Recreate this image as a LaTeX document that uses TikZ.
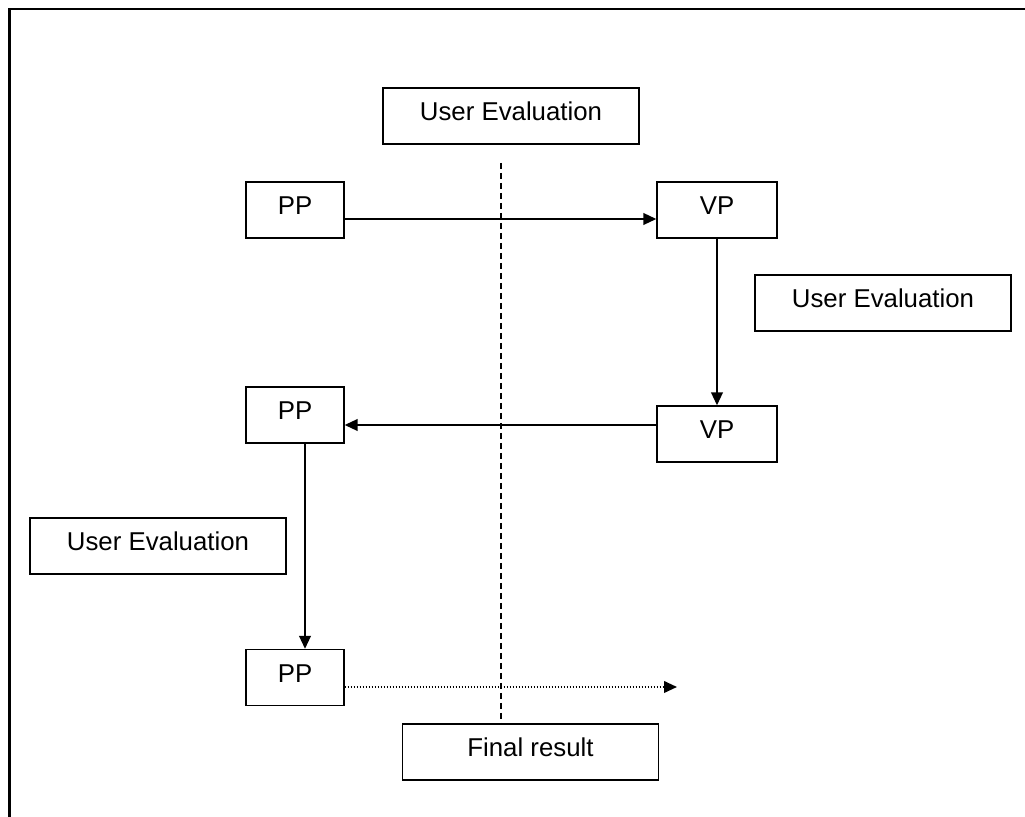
\documentclass[tikz,border=0pt]{standalone}
\usepackage{fontspec}
\setmainfont{Liberation Sans}
\usetikzlibrary{arrows.meta,calc}

\begin{document}
\begin{tikzpicture}[
  x=0.5pt, y=-0.5pt,
  every node/.style={font=\fontsize{12.9}{15}\selectfont},
  box/.style={draw, line width=0.65pt, inner sep=0pt,
              text height=9.5pt, text depth=4.8pt, minimum height=28pt},
  small/.style={box, minimum width=49pt},
  vbox/.style={box, minimum width=60pt},
  wide/.style={box, minimum width=128pt},
  flow/.style={line width=1pt, -{Triangle[length=6.5pt,width=5.8pt]}},
  dotflow/.style={flow, dash pattern=on 0.75pt off 0.75pt},
  divider/.style={line width=0.65pt, dash pattern=on 3pt off 2pt},
  frame/.style={line width=1.2pt, line cap=rect}
]
\useasboundingbox (0,0) rectangle (1025,817);

% open outer frame
\coordinate (fbl) at (9.3,830);
\coordinate (ftl) at (9.3,9);
\coordinate (ftr) at (1040,9);
\draw[frame] (fbl) -- (ftl) -- (ftr);

% evaluation labels
\node[wide] (ue1) at (511,116) {User Evaluation};
\node[wide] (ue2) at (883,303) {User Evaluation};
\node[wide] (ue3) at (158,546) {User Evaluation};
\node[wide] (fin) at (530.5,752) {Final result};

% prototype boxes
\node[small] (pp1) at (295,210) {PP};
\node[vbox]  (vp1) at (717,210) {VP};
\node[vbox]  (vp2) at (717,434) {VP};
\node[small] (pp2) at (295,415) {PP};
\node[small] (pp3) at (295,677.5) {PP};

% dashed divider
\coordinate (dtop) at (501,163);
\draw[divider] (dtop) -- (dtop |- fin.north);

% flow between prototypes
\draw[flow] ([yshift=-4.5pt]pp1.east) -- ([yshift=-4.5pt]vp1.west);
\draw[flow] (vp1.south) -- (vp2.north);
\draw[flow] ([yshift=4.5pt]vp2.west) -- ([yshift=4.5pt]vp2.west -| pp2.east);
\draw[flow] ([xshift=5pt]pp2.south) -- ([xshift=5pt]pp3.north);
\coordinate (end) at (677,687);
\draw[dotflow] (end -| pp3.east) -- (end);
\end{tikzpicture}
\end{document}
